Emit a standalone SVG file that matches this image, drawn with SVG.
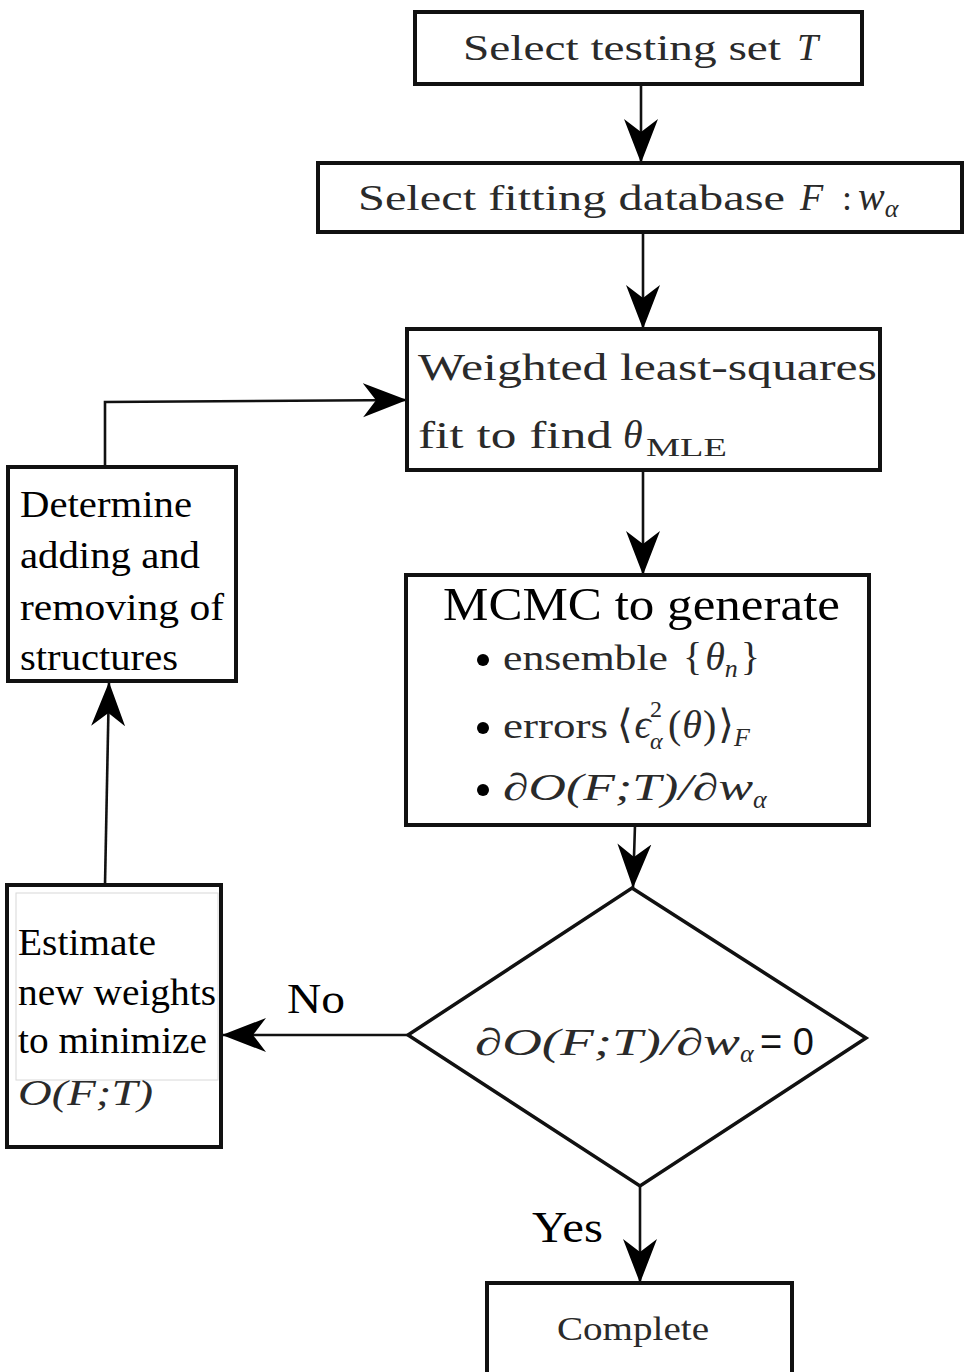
<svg xmlns="http://www.w3.org/2000/svg" width="964" height="1372" viewBox="0 0 964 1372">
<defs>
<style>
.box{fill:#fff;stroke:#111;stroke-width:4}
.cn{fill:none;stroke:#111;stroke-width:2.6}
.cm{font-family:"Liberation Serif","DejaVu Serif",serif;fill:#2a2a2a}
.tm{font-family:"Liberation Serif","DejaVu Serif",serif;fill:#000}
.it{font-style:italic}
</style>
<marker id="ah" markerWidth="46" markerHeight="36" refX="44" refY="18" orient="auto" markerUnits="userSpaceOnUse" viewBox="0 0 46 36">
<path d="M0,1 L44,18 L0,35 L13,18 Z" fill="#000"/>
</marker>
</defs>
<rect width="964" height="1372" fill="#fff"/>

<g id="connectors">
<line class="cn" x1="641" y1="84" x2="641" y2="163" marker-end="url(#ah)"/>
<line class="cn" x1="643" y1="232" x2="643" y2="329" marker-end="url(#ah)"/>
<line class="cn" x1="643" y1="470" x2="643" y2="575" marker-end="url(#ah)"/>
<line class="cn" x1="635" y1="825" x2="633" y2="888" marker-end="url(#ah)"/>
<line class="cn" x1="640" y1="1186" x2="640" y2="1283" marker-end="url(#ah)"/>
<line class="cn" x1="408" y1="1035" x2="222" y2="1035" marker-end="url(#ah)"/>
<line class="cn" x1="105" y1="885" x2="109" y2="682" marker-end="url(#ah)"/>
<polyline class="cn" points="105,467 105,402 407,400" marker-end="url(#ah)"/>
<text class="tm" x="287" y="1013" font-size="42" textLength="58" lengthAdjust="spacingAndGlyphs">No</text>
<text class="tm" x="532" y="1242" font-size="44" textLength="71" lengthAdjust="spacingAndGlyphs">Yes</text>
</g>

<g id="n1">
<rect class="box" x="415" y="12" width="447" height="72"/>
<text class="cm" x="463" y="60" font-size="36" textLength="318" lengthAdjust="spacingAndGlyphs">Select testing set</text>
<text class="cm it" x="797" y="60" font-size="38">T</text>
</g>

<g id="n2">
<rect class="box" x="318" y="163" width="644" height="69"/>
<text class="cm" x="358" y="210" font-size="36" textLength="427" lengthAdjust="spacingAndGlyphs">Select fitting database</text>
<text class="cm it" x="800" y="210" font-size="38">F</text>
<text class="cm" x="842" y="210" font-size="36">:</text>
<text class="cm it" x="858" y="210" font-size="40">w<tspan font-size="26" dy="7">α</tspan></text>
</g>

<g id="n3">
<rect class="box" x="407" y="329" width="473" height="141"/>
<text class="cm" x="418" y="380" font-size="38" textLength="459" lengthAdjust="spacingAndGlyphs">Weighted least-squares</text>
<text class="cm" x="418" y="448" font-size="38" textLength="194" lengthAdjust="spacingAndGlyphs">fit to find</text>
<text class="cm it" x="623" y="448" font-size="40">θ</text>
<text class="cm" x="646" y="456" font-size="26" textLength="81" lengthAdjust="spacingAndGlyphs">MLE</text>
</g>

<g id="n4">
<rect class="box" x="406" y="575" width="463" height="250"/>
<text class="tm" x="443" y="620" font-size="46" textLength="397" lengthAdjust="spacingAndGlyphs">MCMC to generate</text>
<circle cx="483" cy="660" r="6" fill="#000"/>
<text class="cm" x="503" y="670" font-size="36" textLength="165" lengthAdjust="spacingAndGlyphs">ensemble</text>
<text class="cm" x="683" y="670" font-size="40">{<tspan class="it" dx="3">θ</tspan><tspan class="it" font-size="26" dy="7">n</tspan><tspan dx="3" dy="-7">}</tspan></text>
<circle cx="483" cy="728" r="6" fill="#000"/>
<text class="cm" x="503" y="738" font-size="36" textLength="105" lengthAdjust="spacingAndGlyphs">errors</text>
<text class="cm" x="617" y="738" font-size="40">⟨<tspan class="it" dx="2">ϵ</tspan></text>
<text class="cm" x="650" y="717" font-size="24">2</text>
<text class="cm it" x="650" y="749" font-size="24">α</text>
<text class="cm" x="668" y="738" font-size="40">(<tspan class="it" dx="1">θ</tspan><tspan dx="1">)</tspan><tspan dx="2">⟩</tspan><tspan class="it" font-size="26" dy="8">F</tspan></text>
<circle cx="483" cy="790" r="6" fill="#000"/>
<text class="cm it" x="503" y="800" font-size="38" textLength="250" lengthAdjust="spacingAndGlyphs">∂O(F;T)/∂w</text>
<text class="cm it" x="753" y="808" font-size="26">α</text>
</g>

<g id="n5">
<polygon points="632,888 866,1038 640,1186 408,1035" fill="#fff" stroke="#111" stroke-width="3.5"/>
<text class="cm it" x="475" y="1055" font-size="38" textLength="265" lengthAdjust="spacingAndGlyphs">∂O(F;T)/∂w</text>
<text class="cm it" x="740" y="1062" font-size="26">α</text>
<text x="760" y="1055" font-size="38" font-family="Liberation Sans, Arial, sans-serif" fill="#111">= 0</text>
</g>

<g id="n6">
<rect class="box" x="487" y="1283" width="305" height="100"/>
<text class="cm" x="633" y="1340" font-size="34" text-anchor="middle" fill="#333" textLength="152" lengthAdjust="spacingAndGlyphs">Complete</text>
</g>

<g id="n7">
<rect class="box" x="7" y="885" width="214" height="262"/>
<rect x="16" y="893" width="202" height="187" fill="none" stroke="#d8d8d8" stroke-width="1"/>
<text class="tm" x="18" y="955" font-size="38" textLength="138" lengthAdjust="spacingAndGlyphs">Estimate</text>
<text class="tm" x="18" y="1005" font-size="38" textLength="198" lengthAdjust="spacingAndGlyphs">new weights</text>
<text class="tm" x="18" y="1053" font-size="38" textLength="189" lengthAdjust="spacingAndGlyphs">to minimize</text>
<text class="cm it" x="18" y="1105" font-size="36" fill="#555" textLength="135" lengthAdjust="spacingAndGlyphs">O(F;T)</text>
</g>

<g id="n8">
<rect class="box" x="8" y="467" width="228" height="214"/>
<text class="tm" x="20" y="517" font-size="38" textLength="172" lengthAdjust="spacingAndGlyphs">Determine</text>
<text class="tm" x="20" y="568" font-size="38" textLength="180" lengthAdjust="spacingAndGlyphs">adding and</text>
<text class="tm" x="20" y="620" font-size="38" textLength="204" lengthAdjust="spacingAndGlyphs">removing of</text>
<text class="tm" x="20" y="670" font-size="38" textLength="158" lengthAdjust="spacingAndGlyphs">structures</text>
</g>
</svg>
